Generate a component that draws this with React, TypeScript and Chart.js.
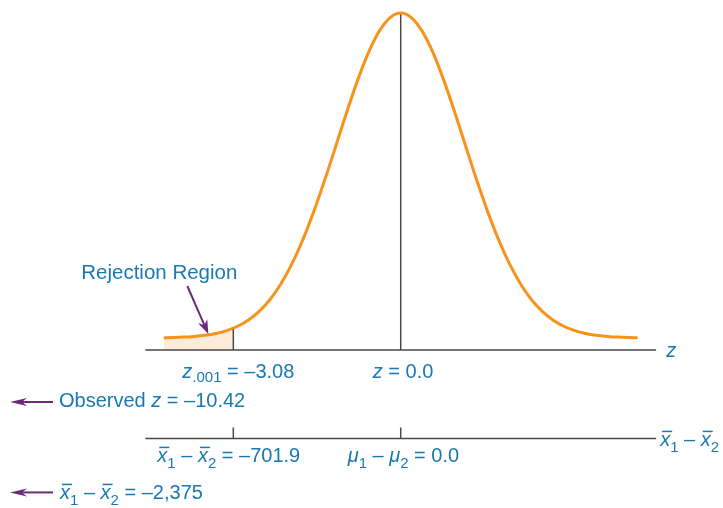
import React, { useEffect, useRef } from "react";
import { Chart, registerables } from "chart.js";

Chart.register(...registerables);

// ---- data ----
const curveZ = [
  -4.36, -4.2, -4.0, -3.8, -3.6, -3.4, -3.2, -3.0, -2.8, -2.6, -2.4, -2.2, -2.0, -1.8, -1.6, -1.4, -1.2, -1.0,
  -0.8, -0.6, -0.4, -0.2, 0, 0.2, 0.4, 0.6, 0.8, 1.0, 1.2, 1.4, 1.6, 1.8, 2.0, 2.2, 2.4, 2.6, 2.8, 3.0, 3.2,
  3.4, 3.6, 3.8, 4.0, 4.2, 4.36,
];
const curveHeight = [
  0.0009, 0.0015, 0.0027, 0.0049, 0.0084, 0.014, 0.0228, 0.0361, 0.0554, 0.0825, 0.1193, 0.1676, 0.2286,
  0.3025, 0.3888, 0.4851, 0.5878, 0.6914, 0.7896, 0.8756, 0.9427, 0.9853, 1.0, 0.9853, 0.9427, 0.8756,
  0.7896, 0.6914, 0.5878, 0.4851, 0.3888, 0.3025, 0.2286, 0.1676, 0.1193, 0.0825, 0.0554, 0.0361, 0.0228,
  0.014, 0.0084, 0.0049, 0.0027, 0.0015, 0.0009,
];
const criticalZ = -3.08;
const criticalHeight = 0.0302;
const meanZ = 0.0;
const observedZ = -10.42;
const criticalDiff = -701.9;
const meanDiff = 0.0;
const observedDiff = -2375;
const axisRange = [-4.7, 4.7];
const zAxisLevel = -0.037;
const diffAxisLevel = -0.309;
const regionLabel = "Rejection Region";

// ---- styles ----
const FONT = '"Liberation Sans", Arial, sans-serif';
const BLUE = "#1a78b2";
const PURPLE = "#6a2a7c";
const ORANGE = "#f7931d";
const SHADE = "#fdebda";
const AXIS = "#4a4a4a";

type Seg = { t: string; italic?: boolean; sub?: boolean; bar?: boolean; dy?: number };

const fmt = (v: number, d: number) => (v < 0 ? "\u2013" : "") + Math.abs(v).toFixed(d);
const fmtInt = (v: number) => (v < 0 ? "\u2013" : "") + Math.abs(v).toLocaleString("en-US");

const xbarDiff = (): Seg[] => [
  { t: "x", italic: true, bar: true },
  { t: "1", sub: true, dy: 6 },
  { t: " \u2013 " },
  { t: "x", italic: true, bar: true },
  { t: "2", sub: true, dy: 6 },
];

function drawRich(ctx: CanvasRenderingContext2D, segs: Seg[], x: number, y: number) {
  let cx = x;
  ctx.textBaseline = "alphabetic";
  ctx.textAlign = "left";
  for (const s of segs) {
    const size = s.sub ? 15 : 20;
    ctx.font = `${s.italic ? "italic " : ""}${size}px ${FONT}`;
    ctx.fillStyle = BLUE;
    const dy = s.sub ? s.dy ?? 4 : 0;
    ctx.fillText(s.t, cx, y + dy);
    const w = ctx.measureText(s.t).width;
    if (s.bar) {
      ctx.strokeStyle = BLUE;
      ctx.lineWidth = 1.5;
      ctx.beginPath();
      ctx.moveTo(cx + 2, y - 15);
      ctx.lineTo(cx + w + 2, y - 15);
      ctx.stroke();
    }
    cx += w;
  }
}

function arrow(ctx: CanvasRenderingContext2D, x1: number, y1: number, x2: number, y2: number, len: number, half: number) {
  const ang = Math.atan2(y2 - y1, x2 - x1);
  const bx = x2 - Math.cos(ang) * len;
  const by = y2 - Math.sin(ang) * len;
  ctx.strokeStyle = PURPLE;
  ctx.fillStyle = PURPLE;
  ctx.lineWidth = 2;
  ctx.beginPath();
  ctx.moveTo(x1, y1);
  ctx.lineTo(bx + Math.cos(ang) * len * 0.3, by + Math.sin(ang) * len * 0.3);
  ctx.stroke();
  ctx.beginPath();
  ctx.moveTo(x2, y2);
  ctx.lineTo(bx + Math.sin(ang) * half, by - Math.cos(ang) * half);
  ctx.lineTo(bx + Math.cos(ang) * len * 0.3, by + Math.sin(ang) * len * 0.3);
  ctx.lineTo(bx - Math.sin(ang) * half, by + Math.cos(ang) * half);
  ctx.closePath();
  ctx.fill();
}

const overlay = {
  id: "overlay",
  beforeDatasetsDraw(chart: any) {
    const { ctx, scales } = chart;
    const xs = scales.x, ys = scales.y;
    const axisY = ys.getPixelForValue(zAxisLevel);
    const xm = xs.getPixelForValue(meanZ);
    ctx.save();
    ctx.strokeStyle = AXIS;
    ctx.lineWidth = 1.5;
    ctx.beginPath();
    ctx.moveTo(xm, ys.getPixelForValue(1.0));
    ctx.lineTo(xm, axisY);
    ctx.stroke();
    ctx.restore();
  },
  afterDatasetsDraw(chart: any) {
    const { ctx, scales } = chart;
    const xs = scales.x, ys = scales.y;
    const axisY = ys.getPixelForValue(zAxisLevel);
    const lowY = ys.getPixelForValue(diffAxisLevel);
    const xa = xs.getPixelForValue(axisRange[0]);
    const xb = xs.getPixelForValue(axisRange[1]);
    const xc = xs.getPixelForValue(criticalZ);
    const xm = xs.getPixelForValue(meanZ);
    ctx.save();
    ctx.strokeStyle = AXIS;
    ctx.lineWidth = 1.5;
    ctx.beginPath();
    ctx.moveTo(xa, axisY);
    ctx.lineTo(xb, axisY);
    ctx.moveTo(xa, lowY);
    ctx.lineTo(xb, lowY);
    ctx.moveTo(xc, ys.getPixelForValue(criticalHeight) + 1);
    ctx.lineTo(xc, axisY);
    ctx.moveTo(xc, lowY - 11);
    ctx.lineTo(xc, lowY);
    ctx.moveTo(xm, lowY - 11);
    ctx.lineTo(xm, lowY);
    ctx.stroke();

    // Rejection region label + arrow
    ctx.font = `20.5px ${FONT}`;
    ctx.fillStyle = BLUE;
    ctx.textAlign = "center";
    ctx.textBaseline = "alphabetic";
    ctx.fillText(regionLabel, xc - 74, axisY - 71);
    arrow(ctx, xc - 46, axisY - 64, xc - 25, axisY - 16, 14, 5);

    // z axis labels
    drawRich(ctx, [{ t: "z", italic: true }, { t: ".001", sub: true, dy: 4 }, { t: " = " + fmt(criticalZ, 2) }], xc - 51, axisY + 28);
    drawRich(ctx, [{ t: "z", italic: true }, { t: " = " + fmt(meanZ, 1) }], xm - 28, axisY + 28);
    drawRich(ctx, [{ t: "z", italic: true }], xb + 10, axisY + 7);

    // observed z
    arrow(ctx, 53, axisY + 52, 10, axisY + 52, 17, 4);
    drawRich(ctx, [{ t: "Observed " }, { t: "z", italic: true }, { t: " = " + fmt(observedZ, 2) }], 59, axisY + 57);

    // difference axis labels
    drawRich(ctx, [...xbarDiff(), { t: " = " + fmt(criticalDiff, 1) }], xc - 76, lowY + 24);
    drawRich(
      ctx,
      [
        { t: "\u03bc", italic: true },
        { t: "1", sub: true, dy: 6 },
        { t: " \u2013 " },
        { t: "\u03bc", italic: true },
        { t: "2", sub: true, dy: 6 },
        { t: " = " + fmt(meanDiff, 1) },
      ],
      xm - 53,
      lowY + 24
    );
    drawRich(ctx, xbarDiff(), xb + 4, lowY + 8);

    // observed difference
    arrow(ctx, 53, lowY + 54, 10, lowY + 54, 17, 4);
    drawRich(ctx, [...xbarDiff(), { t: " = " + fmtInt(observedDiff) }], 60, lowY + 61);
    ctx.restore();
  },
};

export default function App() {
  const ref = useRef<HTMLCanvasElement>(null);
  useEffect(() => {
    if (!ref.current) return;
    const curve = curveZ.map((z, i) => ({ x: z, y: curveHeight[i] }));
    const shade = curve.filter((p) => p.x < criticalZ).concat([{ x: criticalZ, y: criticalHeight }]);
    const chart = new Chart(ref.current, {
      type: "line",
      data: {
        datasets: [
          {
            data: curve,
            borderColor: ORANGE,
            borderWidth: 3,
            pointRadius: 0,
            fill: false,
            cubicInterpolationMode: "monotone",
            order: 0,
          },
          {
            data: shade,
            borderColor: "transparent",
            borderWidth: 0,
            backgroundColor: SHADE,
            pointRadius: 0,
            fill: { value: zAxisLevel },
            cubicInterpolationMode: "monotone",
            order: 1,
          },
        ],
      },
      options: {
        responsive: false,
        animation: false,
        devicePixelRatio: 1,
        layout: { padding: 0 },
        plugins: { legend: { display: false }, tooltip: { enabled: false }, title: { display: false } },
        scales: {
          x: { type: "linear", min: -7.373, max: 5.93, display: false },
          y: { type: "linear", min: -0.5231, max: 1.04, display: false },
        },
      },
      plugins: [overlay],
    });
    return () => chart.destroy();
  }, []);
  return (
    <div style={{ position: "fixed", left: 0, top: 0, width: 723, height: 508, background: "#fff" }}>
      <canvas ref={ref} width={723} height={508} />
    </div>
  );
}
